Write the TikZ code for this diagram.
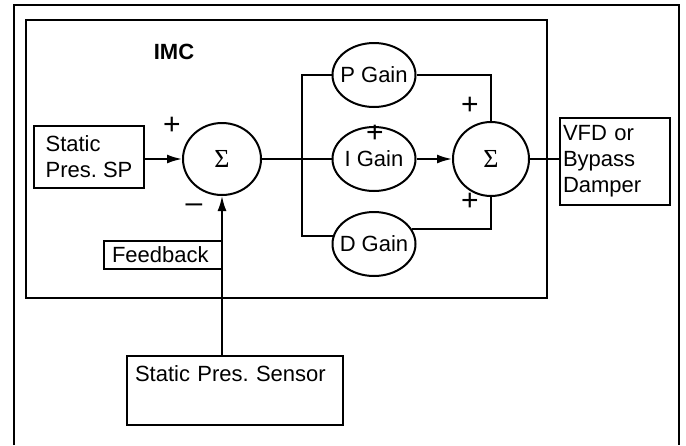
\documentclass[tikz,border=0pt]{standalone}
\usepackage{fontspec}
\setmainfont{Liberation Sans}
\newfontfamily\sigmafont{Liberation Serif}
\frenchspacing
\usetikzlibrary{arrows.meta,positioning,shapes.geometric}

\begin{document}
\begin{tikzpicture}[
  x=1pt,y=-1pt,
  line width=2pt,
  font=\fontsize{22}{26}\selectfont,
  box/.style={draw,rectangle,inner sep=0pt,align=left},
  sumnode/.style={draw,ellipse,inner sep=0pt,minimum width=78pt,minimum height=72pt,
    font=\sigmafont\fontsize{26}{26}\selectfont},
  gain/.style={draw,ellipse,inner xsep=-6pt,inner ysep=0pt,minimum width=83pt,minimum height=64pt},
  sign/.style={inner sep=0pt,font=\fontsize{30}{30}\selectfont},
  arr/.style={-{Latex[length=15pt,width=9pt]}}
]
\useasboundingbox (0,0) rectangle (686,445);
% frames
\draw (14,445) -- (14,5) -- (679,5) -- (679,445);
\draw (26,20) rectangle (547,298);
\node[font=\fontsize{22}{26}\selectfont\bfseries] (imc) at (174,52) {IMC};

\node[box,minimum width=110pt,minimum height=62pt] (sp) at (89,157) {Static\\Pres. SP};
\node[sumnode] (sum1) at (222,159) {Σ};
\node[gain] (pgain) at (374,75) {P Gain};
\node[gain] (igain) at (374,159) {I Gain};
\node[gain] (dgain) at (374,244) {D Gain};
\node[sumnode,minimum width=76pt,minimum height=74pt] (sum2) at (491,159) {Σ};
\node[box,minimum width=110pt,minimum height=87pt,text width=104pt] (vfd) at (615,161.5) {VFD or\\Bypass\\Damper};
\node[box,minimum width=118pt,minimum height=28pt,text width=102pt] (fb) at (163,255) {Feedback};
\node[box,minimum width=216pt,minimum height=69pt,text width=200pt] (sensor) at (235,390.5) {Static Pres. Sensor\\\strut};

\node[sign] (p1) at (172,126) {+};
\node[sign] (m1) at (194,208) {--};
\node[sign] (p2) at (375,134) {+};
\node[sign] (p3) at (470,106) {+};
\node[sign] (p4) at (470,202) {+};

\draw[arr] (sp.east |- sum1) -- (sum1.west);
\draw[arr] (sensor.north -| sum1) -- (sum1.south);
\draw (sum1.east) -- (igain.west);
\draw (pgain.west) -- ++(-30,0) |- (dgain.169);
\draw[arr] (igain.east) -- (sum2.west);
\draw (pgain.east) -| (sum2.north);
\draw (dgain.22) -| (sum2.south);
\draw (sum2.east) -- (vfd.west |- sum2);
\end{tikzpicture}
\end{document}
